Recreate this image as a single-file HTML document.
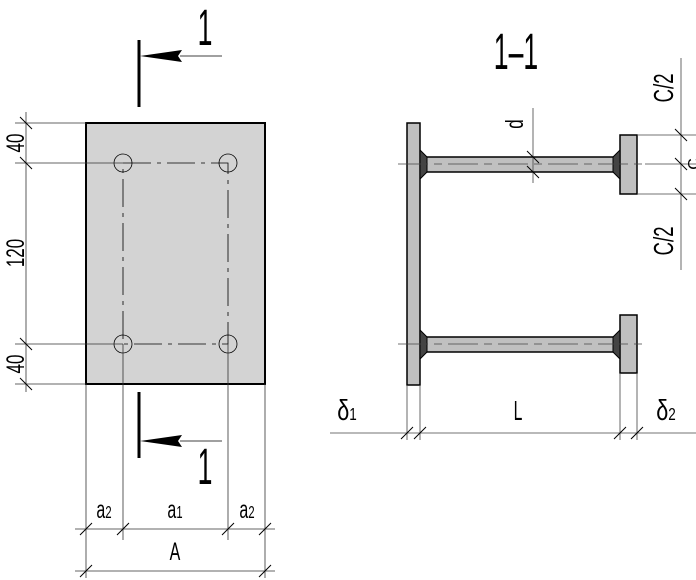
<!DOCTYPE html>
<html><head><meta charset="utf-8"><style>
html,body{margin:0;padding:0;background:#fff}
svg{display:block}
text{font-family:"Liberation Sans",sans-serif;fill:#000}
</style></head><body>
<svg width="696" height="580" viewBox="0 0 696 580" xmlns="http://www.w3.org/2000/svg">
<!-- LEFT VIEW -->
<rect x="86" y="123" width="179" height="261" fill="#d3d3d3" stroke="#000" stroke-width="2"/>
<g stroke="#000" stroke-width="0.8" fill="none">
 <path d="M123 163 H228 V344 H123 Z" stroke-dasharray="28,6,4,6"/>
 <circle cx="123" cy="163" r="9"/><circle cx="228" cy="163" r="9"/>
 <circle cx="123" cy="344" r="9"/><circle cx="228" cy="344" r="9"/>
</g>
<g stroke="#333" stroke-width="0.8" fill="none">
 <line x1="15" y1="123" x2="86" y2="123"/>
 <line x1="15" y1="163" x2="123" y2="163"/>
 <line x1="15" y1="344" x2="123" y2="344"/>
 <line x1="15" y1="384" x2="86" y2="384"/>
 <line x1="26" y1="112" x2="26" y2="392"/>
 <line x1="86" y1="384" x2="86" y2="578"/>
 <line x1="123" y1="344" x2="123" y2="540"/>
 <line x1="228" y1="344" x2="228" y2="540"/>
 <line x1="265" y1="384" x2="265" y2="578"/>
 <line x1="75" y1="529" x2="275" y2="529"/>
 <line x1="75" y1="571" x2="275" y2="571"/>
</g>
<g stroke="#000" stroke-width="1">
 <line x1="20" y1="117" x2="32" y2="129"/><line x1="20" y1="157" x2="32" y2="169"/>
 <line x1="20" y1="338" x2="32" y2="350"/><line x1="20" y1="378" x2="32" y2="390"/>
 <line x1="80" y1="535" x2="92" y2="523"/><line x1="117" y1="535" x2="129" y2="523"/>
 <line x1="222" y1="535" x2="234" y2="523"/><line x1="259" y1="535" x2="271" y2="523"/>
 <line x1="80" y1="577" x2="92" y2="565"/><line x1="259" y1="577" x2="271" y2="565"/>
</g>
<text transform="translate(15,143) rotate(-90) scale(0.85,1.25)" font-size="20" text-anchor="middle" dy="7">40</text>
<text transform="translate(15,253) rotate(-90) scale(0.85,1.25)" font-size="20" text-anchor="middle" dy="7">120</text>
<text transform="translate(15,364) rotate(-90) scale(0.85,1.25)" font-size="20" text-anchor="middle" dy="7">40</text>
<text transform="translate(104,518) scale(0.8,1.25)" font-size="20" text-anchor="middle">a<tspan font-size="14">2</tspan></text>
<text transform="translate(175,518) scale(0.8,1.25)" font-size="20" text-anchor="middle">a<tspan font-size="14">1</tspan></text>
<text transform="translate(247,518) scale(0.8,1.25)" font-size="20" text-anchor="middle">a<tspan font-size="14">2</tspan></text>
<text transform="translate(175,560) scale(0.8,1.25)" font-size="20" text-anchor="middle">A</text>
<!-- section markers -->
<g stroke="#000" stroke-width="3">
 <line x1="139" y1="40" x2="139" y2="107"/>
 <line x1="139" y1="392" x2="139" y2="458"/>
</g>
<g stroke="#000" stroke-width="0.8">
 <line x1="180" y1="56" x2="222" y2="56"/><line x1="180" y1="441" x2="222" y2="441"/>
</g>
<polygon points="140,56 182,50 178,56 182,62" fill="#000"/>
<polygon points="140,441 182,435 178,441 182,447" fill="#000"/>
<text transform="translate(205,45) scale(0.7,1.35)" font-size="38" text-anchor="middle">1</text>
<text transform="translate(205,484) scale(0.7,1.35)" font-size="38" text-anchor="middle">1</text>
<!-- SECTION 1-1 -->
<text transform="translate(516,69) scale(0.7,1.35)" font-size="38" text-anchor="middle">1–1</text>
<rect x="407" y="123" width="13" height="262" fill="#c0c0c0" stroke="#000" stroke-width="1.5"/>
<rect x="620" y="135" width="17" height="59" fill="#c0c0c0" stroke="#000" stroke-width="1.5"/>
<rect x="620" y="315" width="17" height="58" fill="#c0c0c0" stroke="#000" stroke-width="1.5"/>
<rect x="426" y="157" width="189" height="15" fill="#c0c0c0" stroke="#000" stroke-width="1.5"/>
<rect x="426" y="337" width="189" height="15" fill="#c0c0c0" stroke="#000" stroke-width="1.5"/>
<g fill="#444" stroke="#000" stroke-width="1">
 <polygon points="420,150 427,157 427,172 420,179"/>
 <polygon points="620,150 613,157 613,172 620,179"/>
 <polygon points="420,330 427,337 427,352 420,359"/>
 <polygon points="620,330 613,337 613,352 620,359"/>
</g>
<g stroke="#444" stroke-width="0.8" fill="none">
 <line x1="398" y1="164" x2="645" y2="164" stroke-dasharray="30,6,8,6"/>
 <line x1="398" y1="344" x2="645" y2="344" stroke-dasharray="30,6,8,6"/>
 <line x1="533" y1="108" x2="533" y2="183"/>
 <line x1="681" y1="58" x2="681" y2="270"/>
 <line x1="637" y1="135" x2="696" y2="135"/>
 <line x1="645" y1="164" x2="696" y2="164"/>
 <line x1="637" y1="194" x2="696" y2="194"/>
 <line x1="407" y1="385" x2="407" y2="440"/>
 <line x1="420" y1="385" x2="420" y2="440"/>
 <line x1="620" y1="373" x2="620" y2="440"/>
 <line x1="637" y1="373" x2="637" y2="440"/>
 <line x1="330" y1="433" x2="696" y2="433"/>
</g>
<g stroke="#000" stroke-width="1">
 <line x1="527" y1="151" x2="539" y2="163"/><line x1="527" y1="166" x2="539" y2="178"/>
 <line x1="675" y1="129" x2="687" y2="141"/><line x1="675" y1="158" x2="687" y2="170"/>
 <line x1="675" y1="188" x2="687" y2="200"/>
 <line x1="401" y1="439" x2="413" y2="427"/><line x1="414" y1="439" x2="426" y2="427"/>
 <line x1="614" y1="439" x2="626" y2="427"/><line x1="631" y1="439" x2="643" y2="427"/>
</g>
<text transform="translate(514,124) rotate(-90) scale(0.85,1.25)" font-size="20" text-anchor="middle" dy="7">d</text>
<text transform="translate(664,88) rotate(-90) scale(0.85,1.25)" font-size="22" text-anchor="middle" dy="7">C/2</text>
<text transform="translate(664,241) rotate(-90) scale(0.85,1.25)" font-size="22" text-anchor="middle" dy="7">C/2</text>
<text transform="translate(699,164) rotate(-90)" font-size="16" text-anchor="middle">C</text>
<text transform="translate(347,420) scale(0.9,1.2)" font-size="24" text-anchor="middle">δ<tspan font-size="15">1</tspan></text>
<text transform="translate(518,420) scale(0.75,1.3)" font-size="21" text-anchor="middle">L</text>
<text transform="translate(666,420) scale(0.9,1.2)" font-size="24" text-anchor="middle">δ<tspan font-size="15">2</tspan></text>
</svg>
</body></html>
